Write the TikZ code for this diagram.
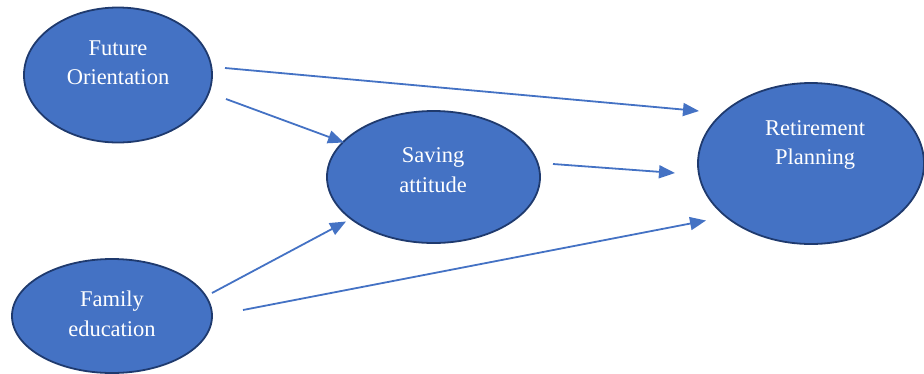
\documentclass[tikz,border=0pt]{standalone}
\usepackage{fontspec}
\setmainfont{Liberation Serif}
\usetikzlibrary{arrows.meta,shapes.geometric}
\definecolor{fillblue}{HTML}{4472C4}
\definecolor{edgeblue}{HTML}{1F3A6E}
\definecolor{arrowblue}{HTML}{4472C4}
\tikzset{
  bubble/.style={ellipse, draw=edgeblue, fill=fillblue, line width=1.8pt, inner sep=0pt},
  bubbletext/.style={text=white, align=center, font=\fontsize{22.5}{29.5}\selectfont, inner sep=0pt},
  conn/.style={draw=arrowblue, line width=1.8pt, -{Triangle[length=16pt,width=13pt]}}
}
\begin{document}
\begin{tikzpicture}[x=1pt,y=-1pt]
\useasboundingbox (0,0) rectangle (924,373);
% ellipses
\node[bubble, minimum width=188pt, minimum height=135pt] (fo) at (118,75) {};
\node[bubble, minimum width=213pt, minimum height=132pt] (sa) at (433.5,177) {};
\node[bubble, minimum width=226pt, minimum height=161pt] (rp) at (811,163.5) {};
\node[bubble, minimum width=200pt, minimum height=114pt] (fe) at (112,316) {};
% texts
\node[bubbletext] (fot) at (118,62.5) {Future\\Orientation};
\node[bubbletext] (sat) at (433,170) {Saving\\attitude};
\node[bubbletext] (rpt) at (815,145) {Retirement\\Planning};
\node[bubbletext] (fet) at (112,314) {Family\\education};
% connector ends
\coordinate (fo1) at (225,68);
\coordinate (rp1) at (699,111);
\coordinate (fo2) at (226,99);
\coordinate (sa1) at (344,142.5);
\coordinate (sa2) at (553,164);
\coordinate (rp2) at (675,173);
\coordinate (fe1) at (212,293);
\coordinate (sa3) at (346,221.5);
\coordinate (fe2) at (243,310);
\coordinate (rp3) at (706,220.5);
% connectors
\draw[conn] (fo1) -- (rp1);
\draw[conn] (fo2) -- (sa1);
\draw[conn] (sa2) -- (rp2);
\draw[conn] (fe1) -- (sa3);
\draw[conn] (fe2) -- (rp3);
\end{tikzpicture}
\end{document}
